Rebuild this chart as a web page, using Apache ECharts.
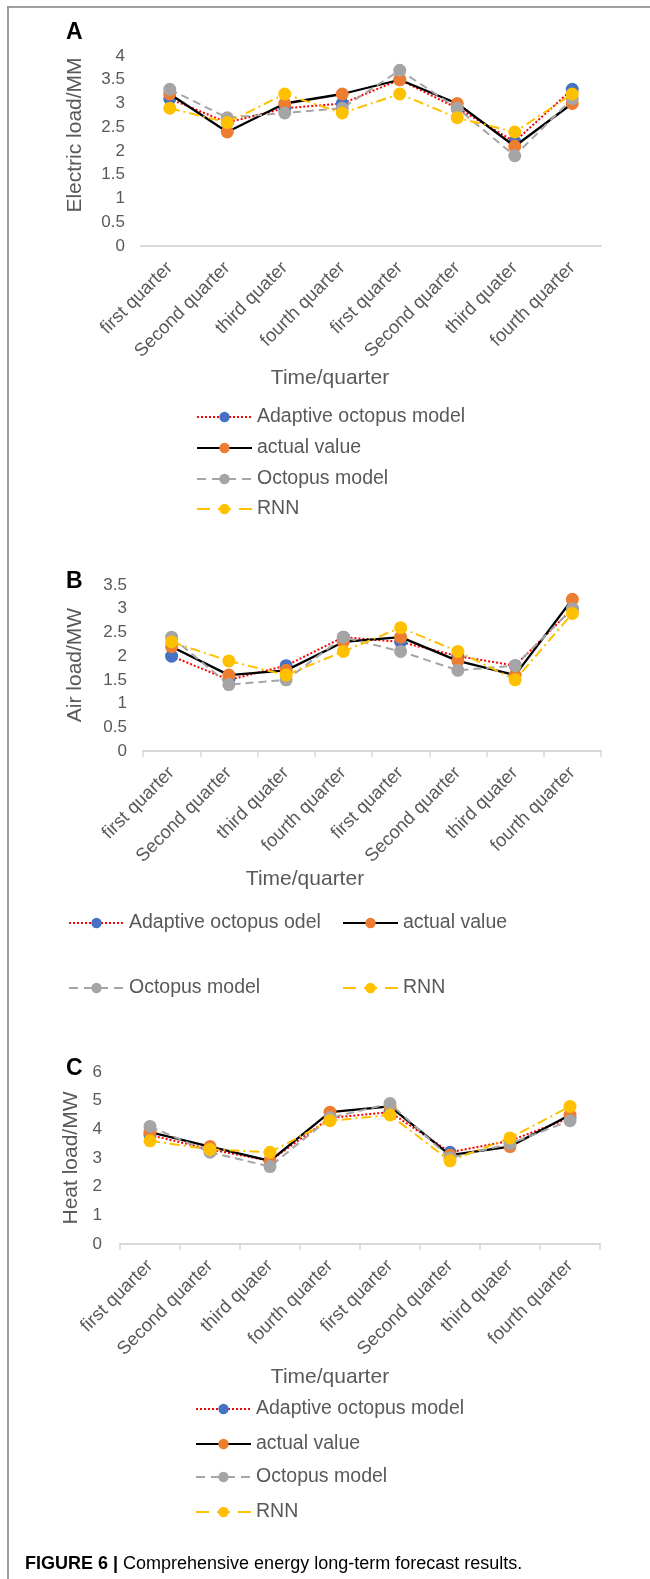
<!DOCTYPE html>
<html><head><meta charset="utf-8">
<script src="https://cdn.jsdelivr.net/npm/echarts@6/dist/echarts.min.js"></script>
<style>html,body{margin:0;padding:0;background:#fff}#c{width:650px;height:1579px}</style>
</head><body><div id="c"></div>
<script>
// ---------- data ----------
const categories = ['first quarter','Second quarter','third quater','fourth quarter','first quarter','Second quarter','third quater','fourth quarter'];

const elecAdaptive = [3.1, 2.6, 2.9, 3.0, 3.5, 2.9, 2.2, 3.3];
const elecActual   = [3.2, 2.4, 3.0, 3.2, 3.5, 3.0, 2.1, 3.0];
const elecOctopus  = [3.3, 2.7, 2.8, 2.9, 3.7, 2.9, 1.9, 3.1];
const elecRNN      = [2.9, 2.6, 3.2, 2.8, 3.2, 2.7, 2.4, 3.2];

const airAdaptive = [2.0, 1.5, 1.8, 2.4, 2.3, 2.0, 1.8, 3.0];
const airActual   = [2.2, 1.6, 1.7, 2.3, 2.4, 1.9, 1.6, 3.2];
const airOctopus  = [2.4, 1.4, 1.5, 2.4, 2.1, 1.7, 1.8, 3.0];
const airRNN      = [2.3, 1.9, 1.6, 2.1, 2.6, 2.1, 1.5, 2.9];

const heatAdaptive = [3.8, 3.3, 2.9, 4.4, 4.6, 3.2, 3.6, 4.4];
const heatActual   = [3.9, 3.4, 2.9, 4.6, 4.8, 3.1, 3.4, 4.5];
const heatOctopus  = [4.1, 3.2, 2.7, 4.4, 4.9, 3.0, 3.5, 4.3];
const heatRNN      = [3.6, 3.3, 3.2, 4.3, 4.5, 2.9, 3.7, 4.8];

const namesAC = ['Adaptive octopus model', 'actual value', 'Octopus model', 'RNN'];
const namesB  = ['Adaptive octopus odel', 'actual value ', 'Octopus model ', 'RNN '];

const yNames = ['Electric load/MM', 'Air load/MW', 'Heat load/MW'];
const xName = 'Time/quarter';
const panelLetters = ['A', 'B', 'C'];
const captionBold = 'FIGURE 6 |';
const captionText = ' Comprehensive energy long-term forecast results.';

// ---------- styles ----------
const FONT = '"Liberation Sans", Arial, sans-serif';
const TXT = '#595959';
const styles = [
  { line: { color: '#FF0000', width: 2, type: [2, 2] }, dot: '#4472C4', legendLine: null },
  { line: { color: '#000000', width: 2.3, type: 'solid' }, dot: '#ED7D31', legendLine: null },
  { line: { color: '#A5A5A5', width: 2, type: [8, 5] }, dot: '#A5A5A5', legendLine: { type: [9, 6] } },
  { line: { color: '#FFC000', width: 2, type: [10, 4, 2, 4] }, dot: '#FFC000', legendLine: { type: [13, 8] } }
];

const grids = [
  { left: 141, top: 56, width: 460, height: 190 },
  { left: 143, top: 585, width: 458, height: 166 },
  { left: 120, top: 1072, width: 480, height: 172 }
];
const yCfg = [
  { max: 4, interval: 0.5, margin: 16, gap: 55, namePad: [0, 0, 0, 32] },
  { max: 3.5, interval: 0.5, margin: 16, gap: 57, namePad: [0, 0, 0, 6] },
  { max: 6, interval: 1, margin: 18, gap: 34, namePad: [0, 0, 0, 0] }
];
const xCfg = [
  { ticks: false, gap: 122, namePad: [0, 82, 0, 0] },
  { ticks: true, gap: 107, namePad: [0, 134, 0, 0] },
  { ticks: true, gap: 123, namePad: [0, 60, 0, 0] }
];

const panelData = [
  [elecAdaptive, elecActual, elecOctopus, elecRNN],
  [airAdaptive, airActual, airOctopus, airRNN],
  [heatAdaptive, heatActual, heatOctopus, heatRNN]
];
const panelNames = [namesAC, namesB, namesAC];

const xAxes = [], yAxes = [], series = [];
for (let p = 0; p < 3; p++) {
  xAxes.push({
    type: 'category', gridIndex: p, data: categories, boundaryGap: true,
    axisLine: { show: true, lineStyle: { color: '#D9D9D9', width: 2 } },
    axisTick: { show: xCfg[p].ticks, length: 6, lineStyle: { color: '#D9D9D9', width: 1.5 }, alignWithLabel: false },
    axisLabel: { interval: 0, rotate: 45, margin: 19, color: TXT, fontSize: 18.5, fontFamily: FONT },
    splitLine: { show: false },
    name: xName, nameLocation: 'middle', nameGap: xCfg[p].gap,
    nameTextStyle: { color: TXT, fontSize: 21, fontFamily: FONT, padding: xCfg[p].namePad }
  });
  yAxes.push({
    type: 'value', gridIndex: p, min: 0, max: yCfg[p].max, interval: yCfg[p].interval,
    axisLine: { show: false }, axisTick: { show: false }, splitLine: { show: false },
    axisLabel: { margin: yCfg[p].margin, color: TXT, fontSize: 17, fontFamily: FONT },
    name: yNames[p], nameLocation: 'middle', nameGap: yCfg[p].gap, nameRotate: 90,
    nameTextStyle: { color: TXT, fontSize: 21, fontFamily: FONT, padding: yCfg[p].namePad }
  });
  for (let s = 0; s < 4; s++) {
    series.push({
      type: 'line', name: panelNames[p][s], xAxisIndex: p, yAxisIndex: p,
      data: panelData[p][s], symbol: 'circle', symbolSize: 13, showSymbol: true,
      lineStyle: styles[s].line, itemStyle: { color: styles[s].dot, borderWidth: 0 },
      z: 2 + s, silent: true, animation: false
    });
  }
}

function legendItem(name, s, left, top) {
  const lg = {
    data: [name], left: left, top: top, orient: 'horizontal', padding: 0, itemGap: 0,
    itemWidth: 55, itemHeight: 13, selectedMode: false,
    textStyle: { color: TXT, fontSize: 19.5, fontFamily: FONT }
  };
  if (styles[s].legendLine) lg.lineStyle = styles[s].legendLine;
  return lg;
}
const legends = [
  legendItem(namesAC[0], 0, 196, 407), legendItem(namesAC[1], 1, 196, 438),
  legendItem(namesAC[2], 2, 196, 469), legendItem(namesAC[3], 3, 196, 499),
  legendItem(namesB[0], 0, 68, 913), legendItem(namesB[1], 1, 342, 913),
  legendItem(namesB[2], 2, 68, 978), legendItem(namesB[3], 3, 342, 978),
  legendItem(namesAC[0], 0, 195, 1399), legendItem(namesAC[1], 1, 195, 1434),
  legendItem(namesAC[2], 2, 195, 1467), legendItem(namesAC[3], 3, 195, 1502)
];

const letterY = [33, 582, 1069];
const graphics = [
  { type: 'line', shape: { x1: 7, y1: 7, x2: 650, y2: 7 }, style: { stroke: '#808080', lineWidth: 1.5 }, silent: true },
  { type: 'line', shape: { x1: 8, y1: 7, x2: 8, y2: 1579 }, style: { stroke: '#808080', lineWidth: 1.5 }, silent: true },
  {
    type: 'text', silent: true,
    style: {
      x: 25, y: 1564, verticalAlign: 'middle',
      text: '{b|' + captionBold + '}{n|' + captionText + '}',
      rich: {
        b: { fontSize: 18, fontWeight: 'bold', fill: '#000', fontFamily: FONT },
        n: { fontSize: 18, fill: '#000', fontFamily: FONT }
      }
    }
  }
];
panelLetters.forEach((L, i) => {
  graphics.push({
    type: 'text', silent: true,
    style: { x: 66, y: letterY[i], text: L, verticalAlign: 'middle', fontSize: 23, fontWeight: 'bold', fill: '#000', fontFamily: FONT }
  });
});

const chart = echarts.init(document.getElementById('c'), null, { renderer: 'canvas' });
chart.setOption({
  backgroundColor: '#ffffff',
  animation: false,
  grid: grids.map(g => Object.assign({ containLabel: false, outerBoundsMode: 'none' }, g)),
  xAxis: xAxes,
  yAxis: yAxes,
  legend: legends,
  series: series,
  graphic: graphics,
  tooltip: { show: false }
});
</script>
</body></html>
